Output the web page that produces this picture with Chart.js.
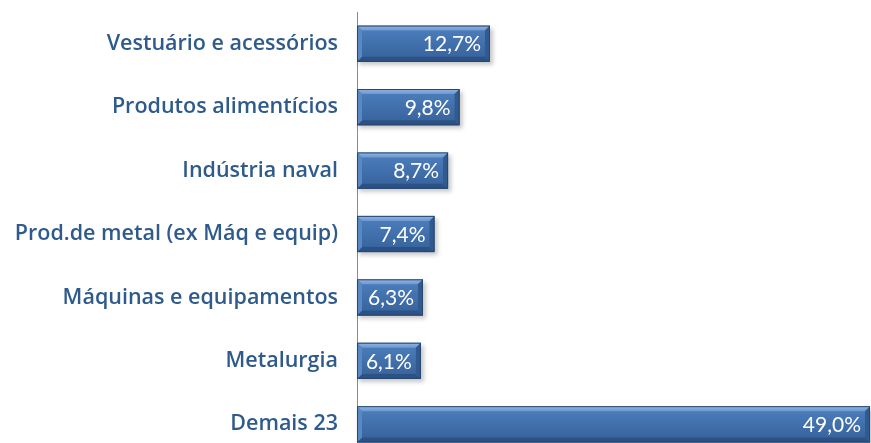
<!DOCTYPE html>
<html><head><meta charset="utf-8">
<script src="https://cdn.jsdelivr.net/npm/chart.js@4/dist/chart.umd.min.js"></script>
<style>
html,body{margin:0;padding:0;background:#fff;overflow:hidden;}
#wrap{position:relative;width:871px;height:456px;}
</style></head>
<body><div id="wrap"><canvas id="c"></canvas></div>
<script>
const categories = ["Vestuário e acessórios","Produtos alimentícios","Indústria naval","Prod.de metal (ex Máq e equip)","Máquinas e equipamentos","Metalurgia","Demais 23"];
const values = [12.7, 9.8, 8.7, 7.4, 6.3, 6.1, 49.0];
const valueLabels = ["12,7%","9,8%","8,7%","7,4%","6,3%","6,1%","49,0%"];

const FONT = "'Open Sans', Lato, sans-serif";
const VFONT = "Lato, 'Open Sans', sans-serif";

const bevelPlugin = {
  id: 'bevel',
  beforeDatasetsDraw(chart) {
    const ctx = chart.ctx;
    const meta = chart.getDatasetMeta(0);
    ctx.save();
    meta.data.forEach(el => {
      const x0 = el.base, x1 = el.x, h = el.height, y0 = el.y - h/2;
      ctx.fillStyle = 'rgba(0,0,0,0.22)';
      ctx.filter = 'blur(2px)';
      ctx.fillRect(x0 + 2, y0 + 3, x1 - x0 + 1, h);
      ctx.filter = 'none';
    });
    ctx.restore();
  },
  afterDatasetsDraw(chart) {
    const ctx = chart.ctx;
    const meta = chart.getDatasetMeta(0);
    ctx.save();
    meta.data.forEach((el, i) => {
      const x0 = el.base, x1 = el.x, h = el.height, y0 = el.y - h/2, y1 = y0 + h;
      const w = x1 - x0;
      const b = 5;
      const g = ctx.createLinearGradient(0, y0, 0, y1);
      g.addColorStop(0, '#4e80be');
      g.addColorStop(0.5, '#4170ac');
      g.addColorStop(1, '#36619a');
      ctx.fillStyle = g;
      ctx.fillRect(x0, y0, w, h);
      ctx.beginPath();
      ctx.moveTo(x0, y0); ctx.lineTo(x1, y0); ctx.lineTo(x1 - b, y0 + b); ctx.lineTo(x0 + b, y0 + b); ctx.closePath();
      const gt = ctx.createLinearGradient(0, y0, 0, y0 + b);
      gt.addColorStop(0, '#94b6e2'); gt.addColorStop(1, '#6d97cf');
      ctx.fillStyle = gt; ctx.fill();
      ctx.beginPath();
      ctx.moveTo(x0, y1); ctx.lineTo(x1, y1); ctx.lineTo(x1 - b, y1 - b); ctx.lineTo(x0 + b, y1 - b); ctx.closePath();
      ctx.fillStyle = '#2c5285'; ctx.fill();
      ctx.beginPath();
      ctx.moveTo(x0, y0); ctx.lineTo(x0 + b, y0 + b); ctx.lineTo(x0 + b, y1 - b); ctx.lineTo(x0, y1); ctx.closePath();
      ctx.fillStyle = '#5989c4'; ctx.fill();
      ctx.beginPath();
      ctx.moveTo(x1, y0); ctx.lineTo(x1 - b, y0 + b); ctx.lineTo(x1 - b, y1 - b); ctx.lineTo(x1, y1); ctx.closePath();
      ctx.fillStyle = '#315a8e'; ctx.fill();
      ctx.strokeStyle = '#25476f'; ctx.lineWidth = 1;
      ctx.strokeRect(x0 + 0.5, y0 + 0.5, w - 1, h - 1);
      ctx.fillStyle = '#ffffff';
      ctx.font = '21px ' + VFONT;
      ctx.textAlign = 'right'; ctx.textBaseline = 'middle';
      ctx.fillText(valueLabels[i], x1 - 9, el.y + 1);
    });
    ctx.restore();
  }
};

new Chart(document.getElementById('c'), {
  type: 'bar',
  data: {
    labels: categories,
    datasets: [{
      data: values,
      backgroundColor: 'rgba(0,0,0,0)',
      borderWidth: 0,
      barPercentage: 0.714,
      categoryPercentage: 0.8
    }]
  },
  options: {
    indexAxis: 'y',
    responsive: true,
    maintainAspectRatio: false,
    animation: false,
    layout: { padding: { top: 12, right: 1, bottom: 0, left: 0 } },
    plugins: { legend: { display: false }, tooltip: { enabled: false } },
    scales: {
      x: { display: false, min: 0, max: 49 },
      y: {
        afterFit(scale) { scale.width = 357; scale.paddingTop = 0; scale.paddingBottom = 0; },
        grid: { display: false, drawTicks: false },
        border: { display: true, color: '#8c8c8c', width: 1 },
        ticks: { color: '#2f5b8c', padding: 19, font: { family: FONT, size: 21.5, weight: '600' } }
      }
    }
  },
  plugins: [bevelPlugin]
});
</script></body></html>
